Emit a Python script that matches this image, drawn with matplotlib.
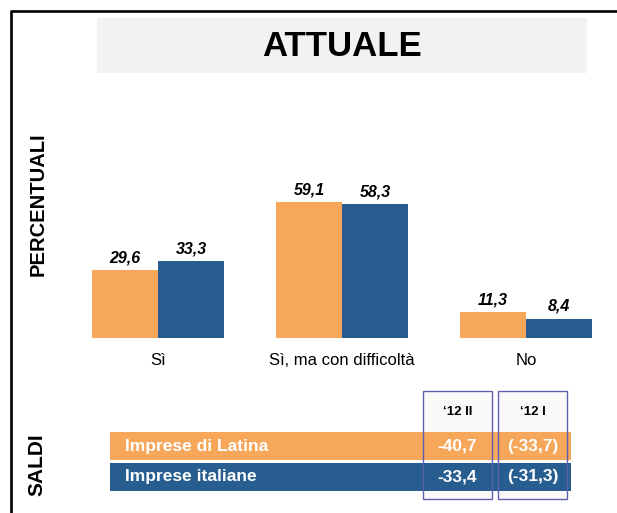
import matplotlib
matplotlib.use("Agg")
import matplotlib.pyplot as plt
from matplotlib.patches import Rectangle

# ---------------- data ----------------
categories = ["Sì", "Sì, ma con difficoltà", "No"]
latina = [29.6, 59.1, 11.3]
italia = [33.3, 58.3, 8.4]

title = "ATTUALE"
table_rows = ["Imprese di Latina", "Imprese italiane"]
table_cols = ["‘12 II", "‘12 I"]
saldi_current = [-40.7, -33.4]
saldi_previous = [-33.7, -31.3]

ORANGE = "#F6A75A"
BLUE = "#275D8F"
BOX = "#5F5FAF"

def fmt(v):
    return f"{v:.1f}".replace(".", ",")

plt.rcParams["font.family"] = ["Liberation Sans", "DejaVu Sans"]

W, H = 617, 513
fig = plt.figure(figsize=(W / 100, H / 100), dpi=100)

def frac(x0, y0, x1, y1):
    return [x0 / W, 1 - y1 / H, (x1 - x0) / W, (y1 - y0) / H]

# overlay axes in pixel coordinates
ov = fig.add_axes([0, 0, 1, 1], zorder=0)
ov.set_xlim(0, W)
ov.set_ylim(H, 0)
ov.axis("off")

# border
ov.plot([11, 11], [11, H + 2], color="black", lw=1.9, solid_capstyle="butt")
ov.plot([10, W + 2], [11, 11], color="black", lw=1.9, solid_capstyle="butt")

# title box
ov.add_patch(Rectangle((97, 18), 490, 55, facecolor="#F2F2F2", edgecolor="none"))
ov.text(342, 46, title, ha="center", va="center", fontsize=25, fontweight="bold")

# side labels
ov.text(38, 204, "PERCENTUALI", rotation=90, ha="center", va="center",
        fontsize=14.5, fontweight="bold")
ov.text(37, 465, "SALDI", rotation=90, ha="center", va="center",
        fontsize=15, fontweight="bold")

# ---------------- bar chart ----------------
ax = fig.add_axes(frac(40, 150, 610, 338), zorder=1)
ax.patch.set_visible(False)
gap = 184.0
c0 = 158.0
ax.set_xlim((40 - c0) / gap, (610 - c0) / gap)
ax.set_ylim(0, 188 / 2.30)
x = list(range(len(categories)))
bw = 66 / gap
b1 = ax.bar([i - bw / 2 for i in x], latina, width=bw, color=ORANGE)
b2 = ax.bar([i + bw / 2 for i in x], italia, width=bw, color=BLUE)
for bars, vals in ((b1, latina), (b2, italia)):
    for r, v in zip(bars, vals):
        ax.annotate(fmt(v), (r.get_x() + r.get_width() / 2, v),
                    xytext=(0, 3.5), textcoords="offset points",
                    ha="center", va="bottom", fontsize=11.5,
                    fontweight="bold", fontstyle="italic")
ax.set_xticks(x)
ax.set_xticklabels(categories, fontsize=12)
ax.tick_params(axis="x", length=0, pad=11)
ax.set_yticks([])
for s in ax.spines.values():
    s.set_visible(False)

# ---------------- table ----------------
col_x = [(423, 492), (498, 567)]
row_y = [(432, 460), (463, 491)]
row_colors = [ORANGE, BLUE]
for (xa, xb) in col_x:
    ov.add_patch(Rectangle((xa, 391), xb - xa, 108, facecolor="#FAF9F7",
                           edgecolor="none", zorder=1))
for (ya, yb), col in zip(row_y, row_colors):
    ov.add_patch(Rectangle((110, ya), 461, yb - ya, facecolor=col,
                           edgecolor="none", zorder=2))
for (xa, xb) in col_x:
    ov.add_patch(Rectangle((xa, 391), xb - xa, 108, facecolor="none",
                           edgecolor=BOX, lw=1.0, zorder=3))
for (xa, xb), lab in zip(col_x, table_cols):
    ov.text((xa + xb) / 2, 412, lab, ha="center", va="center",
            fontsize=9.5, fontweight="bold", zorder=4)
for (ya, yb), name, cur, prev in zip(row_y, table_rows, saldi_current, saldi_previous):
    yc = (ya + yb) / 2
    ov.text(125, yc, name, ha="left", va="center", color="white",
            fontsize=12.5, fontweight="bold", zorder=4)
    ov.text(sum(col_x[0]) / 2, yc, fmt(cur), ha="center", va="center",
            color="white", fontsize=12.5, fontweight="bold", zorder=4)
    ov.text(sum(col_x[1]) / 2, yc, f"({fmt(prev)})", ha="center", va="center",
            color="white", fontsize=12.5, fontweight="bold", zorder=4)

fig.savefig("out.png", dpi=100)
